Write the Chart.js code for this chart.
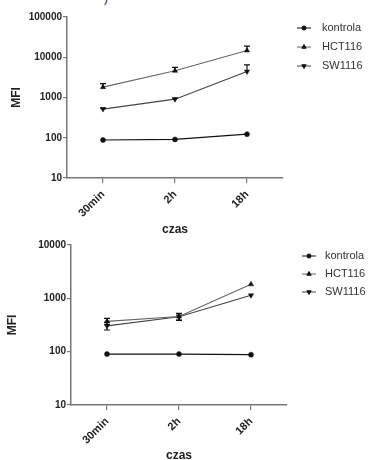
<!DOCTYPE html>
<html>
<head>
<meta charset="utf-8">
<script src="https://cdn.jsdelivr.net/npm/chart.js@4/dist/chart.umd.min.js"></script>
<style>
  html, body { margin:0; padding:0; background:#fff; width:373px; height:460px; overflow:hidden; }
  .wrap { position:absolute; left:0; width:373px; }
  #frag { position:absolute; left:104px; top:-9px; font:12px "Liberation Sans", Arial, sans-serif; color:#222; }
</style>
</head>
<body>
<div id="frag">)</div>
<div class="wrap" style="top:0;height:240px;"><canvas id="c1" width="373" height="240"></canvas></div>
<div class="wrap" style="top:230px;height:236px;"><canvas id="c2" width="373" height="236"></canvas></div>
<script>
// ---- data ----
const categories = ['30min', '2h', '18h'];
const seriesNames = ['kontrola', 'HCT116', 'SW1116'];
const yTicksTop = [10, 100, 1000, 10000, 100000];
const yTicksBottom = [10, 100, 1000, 10000];

// top panel
const kontrolaTop = [88, 91, 123];
const hctTop = [1810, 4600, 14700];
const hctTopErr = [400, 1000, 4300];
const swTop = [515, 910, 4400];
const swTopErr = [30, 60, 2100];
const kontrolaTopErr = [0, 0, 0];

// bottom panel
const kontrolaBottom = [90, 90, 88];
const hctBottom = [370, 455, 1830];
const hctBottomErr = [50, 70, 0];
const swBottom = [305, 450, 1140];
const swBottomErr = [50, 60, 0];
const kontrolaBottomErr = [0, 0, 0];

const FONT = '"Liberation Sans", Arial, sans-serif';

const errorBars = {
  id: 'errorBars',
  afterDatasetsDraw(chart, args, opts) {
    const ctx = chart.ctx, ys = chart.scales.y, xs = chart.scales.x;
    ctx.save();
    chart.data.datasets.forEach(ds => {
      if (!ds.err) return;
      ds.data.forEach((v, i) => {
        const e = ds.err[i];
        if (!e) return;
        const x = xs.getPixelForValue(i);
        const yTop = ys.getPixelForValue(v + e);
        const yBot = opts.both ? ys.getPixelForValue(Math.max(v - e, 1)) : ys.getPixelForValue(v);
        ctx.strokeStyle = '#111';
        ctx.lineWidth = 1.2;
        ctx.beginPath();
        ctx.moveTo(x, yTop); ctx.lineTo(x, yBot);
        ctx.moveTo(x - 3, yTop); ctx.lineTo(x + 3, yTop);
        if (opts.both) { ctx.moveTo(x - 3, yBot); ctx.lineTo(x + 3, yBot); }
        ctx.stroke();
      });
    });
    ctx.restore();
  }
};

const customLegend = {
  id: 'customLegend',
  afterDraw(chart, args, opts) {
    const ctx = chart.ctx;
    ctx.save();
    chart.data.datasets.forEach((ds, i) => {
      const y = opts.y0 + i * opts.dy;
      ctx.strokeStyle = ds.borderColor;
      ctx.lineWidth = 1;
      ctx.beginPath();
      ctx.moveTo(opts.x0, y); ctx.lineTo(opts.x0 + 14, y);
      ctx.stroke();
      ctx.fillStyle = '#111';
      ctx.strokeStyle = '#111';
      Chart.helpers.drawPoint(ctx, {pointStyle: ds.pointStyle, rotation: ds.pointRotation || 0, radius: ds.pointRadius - 0.5, borderWidth: 0.5}, opts.x0 + 7, y);
      ctx.fillStyle = '#333';
      ctx.font = '11px ' + FONT;
      ctx.textBaseline = 'middle';
      ctx.textAlign = 'left';
      ctx.fillText(ds.label, opts.textX, y);
    });
    ctx.restore();
  }
};

function makeDatasets(k, kErr, h, hErr, s, sErr) {
  return [
    {label: seriesNames[0], data: k, err: kErr, borderColor: '#111', backgroundColor: '#111', pointStyle: 'circle', pointRadius: 2.5, pointBorderWidth: 0.5, borderWidth: 1.1},
    {label: seriesNames[1], data: h, err: hErr, borderColor: '#666', backgroundColor: '#111', pointBorderColor: '#111', pointStyle: 'triangle', pointRadius: 3, pointBorderWidth: 0.5, borderWidth: 1.1},
    {label: seriesNames[2], data: s, err: sErr, borderColor: '#444', backgroundColor: '#111', pointBorderColor: '#111', pointStyle: 'triangle', pointRotation: 180, pointRadius: 3, pointBorderWidth: 0.5, borderWidth: 1.1}
  ];
}

function makeChart(id, datasets, cfg) {
  return new Chart(document.getElementById(id), {
    type: 'line',
    data: {labels: categories, datasets},
    plugins: [errorBars, customLegend],
    options: {
      responsive: false,
      animation: false,
      layout: {padding: {top: cfg.top, right: cfg.right, left: 0, bottom: 0}},
      plugins: {
        legend: {display: false},
        tooltip: {enabled: false},
        errorBars: {both: cfg.both},
        customLegend: {x0: cfg.legX, textX: cfg.legTextX, y0: cfg.legY, dy: cfg.legDy}
      },
      scales: {
        x: {
          type: 'category',
          offset: true,
          afterFit: s => { s.height = cfg.xH; },
          grid: {display: true, drawOnChartArea: false, drawTicks: true, tickLength: 5, color: '#777', lineWidth: 1.2, offset: false},
          border: {display: true, color: '#777', width: 1.5},
          ticks: {font: {family: FONT, size: 11, weight: 'bold'}, color: '#222', minRotation: 45, maxRotation: 45, padding: 5},
          title: {display: true, text: 'czas', font: {family: FONT, size: 12, weight: 'bold'}, color: '#222', padding: {top: 0, bottom: cfg.titlePadB}}
        },
        y: {
          type: 'logarithmic',
          min: cfg.yTicks[0],
          max: cfg.yTicks[cfg.yTicks.length - 1],
          afterFit: s => { s.width = cfg.yW; },
          afterBuildTicks: s => { s.ticks = cfg.yTicks.map(v => ({value: v})); },
          grid: {display: true, drawOnChartArea: false, drawTicks: true, tickLength: 4, color: '#777', lineWidth: 1.2},
          border: {display: true, color: '#777', width: 1.5},
          ticks: {font: {family: FONT, size: 10, weight: 'bold'}, color: '#222', padding: 1, autoSkip: false, callback: v => String(v)},
          title: {display: true, text: 'MFI', font: {family: FONT, size: 12, weight: 'bold'}, color: '#222', padding: {top: cfg.mfiPad, bottom: 0}}
        }
      }
    }
  });
}

makeChart('c1', makeDatasets(kontrolaTop, kontrolaTopErr, hctTop, hctTopErr, swTop, swTopErr), {
  top: 17, right: 90, xH: 62, yW: 67, yTicks: yTicksTop, both: false, titlePadB: 3, mfiPad: 9,
  legX: 297, legTextX: 322, legY: 28, legDy: 19
});
makeChart('c2', makeDatasets(kontrolaBottom, kontrolaBottomErr, hctBottom, hctBottomErr, swBottom, swBottomErr), {
  top: 15, right: 86, xH: 61, yW: 71, yTicks: yTicksBottom, both: true, titlePadB: 3, mfiPad: 5,
  legX: 302, legTextX: 325, legY: 26, legDy: 18
});
</script>
</body>
</html>
